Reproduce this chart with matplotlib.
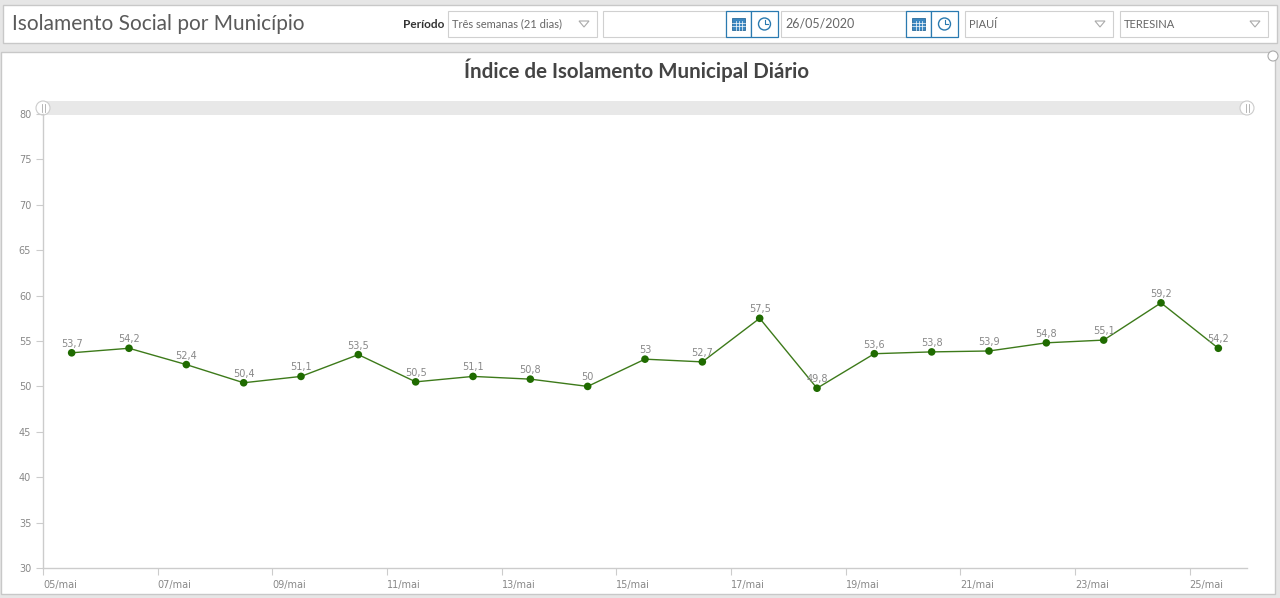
import numpy as np
import matplotlib
matplotlib.use("Agg")
import matplotlib.pyplot as plt
import matplotlib.dates as mdates
from matplotlib.patches import Rectangle, Circle, Polygon
from matplotlib.ticker import FuncFormatter

# dados
dias = ["2020-05-05", "2020-05-06", "2020-05-07", "2020-05-08", "2020-05-09",
        "2020-05-10", "2020-05-11", "2020-05-12", "2020-05-13", "2020-05-14",
        "2020-05-15", "2020-05-16", "2020-05-17", "2020-05-18", "2020-05-19",
        "2020-05-20", "2020-05-21", "2020-05-22", "2020-05-23", "2020-05-24",
        "2020-05-25"]
indice = [53.7, 54.2, 52.4, 50.4, 51.1, 53.5, 50.5, 51.1, 50.8, 50.0, 53.0,
          52.7, 57.5, 49.8, 53.6, 53.8, 53.9, 54.8, 55.1, 59.2, 54.2]
y_ticks = [30, 35, 40, 45, 50, 55, 60, 65, 70, 75, 80]
x_tick_dias = [5, 7, 9, 11, 13, 15, 17, 19, 21, 23, 25]

titulo = "Índice de Isolamento Municipal Diário"
cabecalho = "Isolamento Social por Município"

plt.rcParams['font.family'] = ['Lato', 'DejaVu Sans']
W, H = 1280, 598
fig = plt.figure(figsize=(W / 100, H / 100), dpi=100)
fig.patch.set_facecolor("#e6e6e6")

# fundo em pixels (cabecalho, paineis)
bg = fig.add_axes([0, 0, 1, 1])
bg.set_xlim(0, W)
bg.set_ylim(H, 0)
bg.axis("off")

bg.add_patch(Rectangle((3, 5), 1274, 38, fc="white", ec="#c8c8c8", lw=1))
bg.add_patch(Rectangle((1, 52), 1274, 542, fc="white", ec="#c8c8c8", lw=1))

bg.text(12, 24, cabecalho, fontsize=15, color="#5a5a5a", va="center",
        fontweight="normal")
bg.text(403, 24, "Período", fontsize=8.5, color="#333333", va="center",
        fontweight="bold")

def caixa(x0, x1, texto=None, seta=False, fs=8):
    bg.add_patch(Rectangle((x0, 11), x1 - x0, 26, fc="white", ec="#d0d0d0", lw=0.8))
    if texto:
        bg.text(x0 + 4, 24, texto, fontsize=fs, color="#666666", va="center")
    if seta:
        xs = x1 - 13
        bg.add_patch(Polygon([[xs - 5, 21], [xs + 5, 21], [xs, 27]], closed=True,
                             fc="none", ec="#aaaaaa", lw=0.8))

def botoes(x0):
    bg.add_patch(Rectangle((x0, 11), 25, 26, fc="white", ec="#2a7ab0", lw=0.9))
    bg.add_patch(Rectangle((x0 + 6, 18), 13, 12, fc="#3a86c0", ec="#2a6a9a", lw=0.6))
    for gx in (x0 + 9.5, x0 + 12.5, x0 + 15.5):
        bg.plot([gx, gx], [20.5, 30], color="white", lw=0.5)
    for gy in (23, 26):
        bg.plot([x0 + 6, x0 + 19], [gy, gy], color="white", lw=0.5)
    bg.add_patch(Rectangle((x0 + 25, 11), 27, 26, fc="white", ec="#2a7ab0", lw=0.9))
    bg.add_patch(Circle((x0 + 38.5, 24), 6, fc="white", ec="#2a7ab0", lw=1))
    bg.plot([x0 + 38.5, x0 + 38.5, x0 + 42], [19.5, 24, 24], color="#2a7ab0", lw=0.8)

caixa(448, 597, "Três semanas (21 dias)", seta=True)
caixa(603, 726)
botoes(726)
caixa(781, 906, "26/05/2020", fs=9)
botoes(906)
caixa(965, 1113, "PIAUÍ", seta=True)
caixa(1120, 1268, "TERESINA", seta=True)

bg.text(637, 70, titulo, fontsize=14.8, color="#444444", ha="center", va="center",
        fontweight="bold")
bg.add_patch(Circle((1273, 56), 5, fc="white", ec="#aaaaaa", lw=0.8))

# barra de rolagem
bg.add_patch(Rectangle((43, 101), 1204, 14, fc="#e8e8e8", ec="none"))
for hx in (43, 1247):
    bg.add_patch(Circle((hx, 108), 7, fc="white", ec="#cccccc", lw=0.8, zorder=5))
    bg.plot([hx - 1.5, hx - 1.5], [104, 112], color="#aaaaaa", lw=0.6, zorder=6)
    bg.plot([hx + 1.5, hx + 1.5], [104, 112], color="#aaaaaa", lw=0.6, zorder=6)

# grafico
ax = fig.add_axes([43 / W, 1 - 568 / H, 1204 / W, 454 / H])
ax.set_facecolor("none")

x = np.array(dias, dtype="datetime64[D]") + np.timedelta64(12, "h")
xd = mdates.date2num(x)
ax.plot(xd, indice, color="#3d7a1a", lw=1, zorder=3)
ax.scatter(xd, indice, s=30, color="#1f6b00", zorder=4, edgecolors="none")

for xi, yi in zip(xd, indice):
    rotulo = f"{yi:g}".replace(".", ",")
    ax.annotate(rotulo, (xi, yi), xytext=(0, 4), textcoords="offset pixels",
                ha="center", va="bottom", fontsize=7, color="#888888",
                family=["Liberation Sans Narrow", "DejaVu Sans"])

x0 = mdates.date2num(np.datetime64(dias[0], "D"))
x1 = mdates.date2num(np.datetime64(dias[-1], "D") + np.timedelta64(1, "D"))
ax.set_xlim(x0, x1)
ax.set_ylim(30, 80)
ax.set_yticks(y_ticks)
ax.xaxis.set_major_locator(mdates.DayLocator(bymonthday=x_tick_dias))
ax.xaxis.set_major_formatter(FuncFormatter(lambda v, p: mdates.num2date(v).strftime("%d") + "/mai"))

for s in ("top", "right"):
    ax.spines[s].set_visible(False)
for s in ("left", "bottom"):
    ax.spines[s].set_color("#cccccc")
    ax.spines[s].set_linewidth(1)

ax.tick_params(axis="both", colors="#cccccc", labelcolor="#888888", labelsize=7,
               length=5, width=0.8)
for lab in ax.get_xticklabels() + ax.get_yticklabels():
    lab.set_family(["Liberation Sans Narrow", "DejaVu Sans"])
for lab in ax.get_xticklabels():
    lab.set_horizontalalignment("left")

fig.savefig("out.png", dpi=100, facecolor=fig.get_facecolor())
